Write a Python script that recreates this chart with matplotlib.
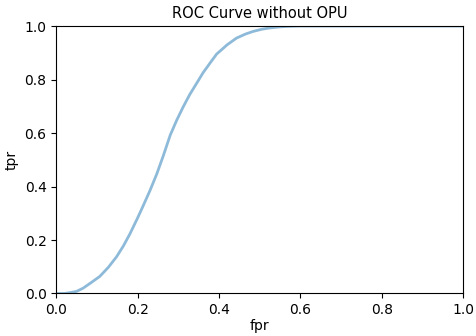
import matplotlib
matplotlib.use("Agg")
import matplotlib.pyplot as plt

# ROC curve points (false positive rate vs true positive rate)
fpr = [0.0, 0.02, 0.033, 0.05, 0.066, 0.085, 0.107, 0.128, 0.148, 0.165, 0.181,
       0.2, 0.21, 0.23, 0.247, 0.263, 0.28, 0.296, 0.312, 0.328, 0.345, 0.361,
       0.38, 0.394, 0.42, 0.443, 0.465, 0.484, 0.505, 0.525, 0.55, 0.575, 0.6,
       0.7, 0.8, 0.9, 1.0]
tpr = [0.0, 0.0, 0.003, 0.008, 0.02, 0.04, 0.064, 0.098, 0.137, 0.178, 0.223,
       0.283, 0.316, 0.384, 0.447, 0.515, 0.592, 0.648, 0.698, 0.744, 0.786, 0.826,
       0.866, 0.895, 0.93, 0.955, 0.97, 0.98, 0.988, 0.993, 0.997, 0.999, 1.0,
       1.0, 1.0, 1.0, 1.0]

fig = plt.figure(figsize=(4.77, 3.36), dpi=100)
ax = fig.add_axes([0.118, 0.1265, 0.853, 0.796])
ax.plot(fpr, tpr, color="#1f77b4", alpha=0.5, linewidth=2)
ax.set_xlim(0, 1)
ax.set_ylim(0, 1)
ax.set_xticks([0.0, 0.2, 0.4, 0.6, 0.8, 1.0])
ax.set_yticks([0.0, 0.2, 0.4, 0.6, 0.8, 1.0])
ax.set_title("ROC Curve without OPU", fontsize=10.5)
ax.set_xlabel("fpr", labelpad=1)
ax.set_ylabel("tpr")
fig.savefig("out.png", dpi=100)
